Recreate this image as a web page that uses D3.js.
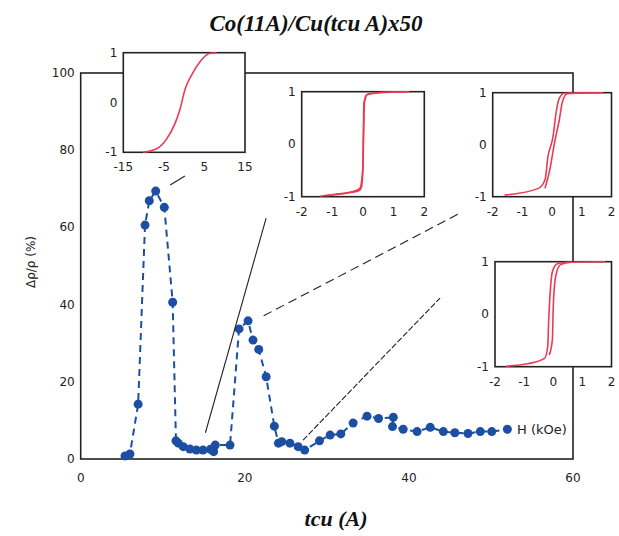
<!DOCTYPE html>
<html><head><meta charset="utf-8">
<script src="https://cdn.jsdelivr.net/npm/d3@7"></script>
<style>body{margin:0;background:#fff}</style>
</head><body>
<script>
// ---- data ----
const tcu = [5.4,6.0,7.0,7.84,8.36,9.14,10.19,11.21,11.61,11.9,12.5,13.3,14.1,14.9,15.8,16.2,16.4,18.2,19.3,20.4,21.0,21.7,22.6,23.6,24.1,24.5,25.5,26.5,27.3,29.1,30.4,31.7,33.2,34.9,36.3,38.1,38.0,39.3,41.0,42.6,44.2,45.6,47.2,48.7,50.1,52.0];
const dr  = [0.8,1.3,14.2,60.6,66.9,69.4,65.2,40.6,4.7,4.1,3.2,2.6,2.3,2.3,2.5,1.9,3.6,3.6,33.7,35.8,30.8,28.4,21.3,8.5,4.1,4.5,4.1,3.2,2.3,4.7,6.2,6.5,9.3,11.1,10.5,10.8,8.4,7.7,7.1,8.2,7.1,6.8,6.6,7.1,7.1,7.7];
const xTicks = [0,20,40,60];
const yTicks = [0,20,40,60,80,100];

// insets: H (kOe) and normalized M
const in1H = [-10.1,-6.8,-4.3,-2.3,-1.0,0.2,1.9,3.9,6.4,8.0];
const in1M = [-1.0,-0.93,-0.73,-0.43,-0.13,0.26,0.56,0.82,0.99,1.0];
const in1Ticks = [-15,-5,5,15];

const in2H = [-1.40,-0.86,-0.32,-0.10,-0.01,0.01,0.03,0.12,0.55,1.43];
const in2M = [-0.99,-0.95,-0.90,-0.84,-0.49,0.14,0.78,0.94,0.98,1.0];
const in2bH = [-1.2,-0.5,-0.12,-0.05,0.0,0.02,0.05,0.15,0.7,1.5];
const in2bM = [-0.98,-0.93,-0.88,-0.82,-0.45,0.18,0.8,0.95,0.99,1.0];

const in3H = [-1.60,-0.46,-0.24,-0.14,0.03,0.13,0.24,0.41,1.71];
const in3M = [-0.97,-0.84,-0.68,-0.23,0.15,0.60,0.89,0.99,1.0];
const in3bH = [-0.24,-0.08,0.08,0.24,0.35,0.51,1.2];
const in3bM = [-0.84,-0.49,0.03,0.47,0.83,0.98,1.0];

const in4H = [-1.62,-0.85,-0.30,-0.19,-0.16,-0.10,-0.03,0.14,0.47,1.78];
const in4M = [-0.99,-0.94,-0.84,-0.62,-0.17,0.46,0.81,0.96,0.99,1.0];
const in4bH = [-0.14,-0.03,0.0,0.08,0.24,0.6];
const in4bM = [-0.78,-0.49,0.14,0.71,0.94,0.99];
const insTicksSmall = [-2,-1,0,1,2];
const insYTicks = [-1,0,1];

// leader lines in main-data coordinates [x1,y1,x2,y2]
const leaders = [
  {p:[10.9,71.0,12.7,73.3], dash:null},
  {p:[15.2,6.8,22.6,62.4], dash:null},
  {p:[22.3,37.1,46.5,64.0], dash:"9,5"},
  {p:[27.1,4.9,43.8,41.7], dash:"6,2"}
];

// ---- drawing ----
const W=619,H=536;
const svg=d3.select("body").append("svg").attr("width",W).attr("height",H);
const L=80.7,R=573,T=73,B=459;
const x=d3.scaleLinear().domain([0,60]).range([L,R]);
const y=d3.scaleLinear().domain([0,100]).range([B,T]);
const blue="#1c4fa3", red="#ec3a55";
const tickFont="DejaVu Sans";

// frame
svg.append("rect").attr("x",L).attr("y",T).attr("width",R-L).attr("height",B-T)
  .attr("fill","none").attr("stroke","#222").attr("stroke-width",1.6);

// axes labels
svg.append("g").selectAll("text").data(xTicks).join("text")
  .attr("x",d=>x(d)).attr("y",B+23).attr("text-anchor","middle")
  .attr("font-family",tickFont).attr("font-size",12).attr("fill","#222").text(d=>d);
svg.append("g").selectAll("text").data(yTicks).join("text")
  .attr("x",L-6).attr("y",d=>y(d)+4).attr("text-anchor","end")
  .attr("font-family",tickFont).attr("font-size",12).attr("fill","#222").text(d=>d);

svg.append("text").attr("transform","translate(35,262) rotate(-90)").attr("text-anchor","middle")
  .attr("font-family",tickFont).attr("font-size",12).attr("fill","#222").text("Δρ/ρ (%)");

svg.append("text").attr("x",316).attr("y",31).attr("text-anchor","middle")
  .attr("font-family","Liberation Serif").attr("font-weight","bold").attr("font-style","italic")
  .attr("font-size",23).attr("fill","#111").text("Co(11A)/Cu(tcu A)x50");
svg.append("text").attr("x",336).attr("y",526).attr("text-anchor","middle")
  .attr("font-family","Liberation Serif").attr("font-weight","bold").attr("font-style","italic")
  .attr("font-size",22).attr("fill","#111").text("tcu (A)");

// data
const pts=tcu.map((t,i)=>[t,dr[i]]);
svg.append("path").datum(pts).attr("fill","none").attr("stroke",blue).attr("stroke-width",2)
  .attr("stroke-dasharray","7,5")
  .attr("d",d3.line().x(d=>x(d[0])).y(d=>y(d[1])));
svg.append("g").selectAll("circle").data(pts).join("circle")
  .attr("cx",d=>x(d[0])).attr("cy",d=>y(d[1])).attr("r",4.5).attr("fill",blue);

svg.append("text").attr("x",517).attr("y",434).attr("font-family",tickFont)
  .attr("font-size",13).attr("fill","#222").text("H (kOe)");

// leaders
leaders.forEach(l=>{
  const ln=svg.append("line").attr("x1",x(l.p[0])).attr("y1",y(l.p[1]))
    .attr("x2",x(l.p[2])).attr("y2",y(l.p[3])).attr("stroke","#222").attr("stroke-width",1.1);
  if(l.dash) ln.attr("stroke-dasharray",l.dash);
});

// insets
function inset(box, xdom, xt, curves){
  const g=svg.append("g");
  const sx=d3.scaleLinear().domain(xdom).range([box.l,box.r]);
  const sy=d3.scaleLinear().domain([-1,1]).range([box.b,box.t]);
  g.append("rect").attr("x",box.l).attr("y",box.t).attr("width",box.r-box.l).attr("height",box.b-box.t)
    .attr("fill","#fff").attr("stroke","#222").attr("stroke-width",1.6);
  curves.forEach(c=>{
    const p=c[0].map((h,i)=>[h,c[1][i]]);
    g.append("path").datum(p).attr("fill","none").attr("stroke",red).attr("stroke-width",1.6)
      .attr("d",d3.line().curve(d3.curveMonotoneX).x(d=>sx(d[0])).y(d=>sy(d[1])));
  });
  g.selectAll(".xt").data(xt).join("text").attr("x",d=>sx(d)).attr("y",box.b+19)
    .attr("text-anchor","middle").attr("font-family",tickFont).attr("font-size",12).attr("fill","#222").text(d=>d);
  g.selectAll(".yt").data(insYTicks).join("text").attr("x",box.l-6).attr("y",d=>sy(d)+4)
    .attr("text-anchor","end").attr("font-family",tickFont).attr("font-size",12).attr("fill","#222").text(d=>d);
}
inset({l:123.3,r:245,t:52.7,b:152.3},[-15,15],in1Ticks,[[in1H,in1M]]);
inset({l:301.7,r:424.3,t:91.7,b:196.7},[-2,2],insTicksSmall,[[in2H,in2M],[in2bH,in2bM]]);
inset({l:492.7,r:611.5,t:92.7,b:196.7},[-2,2],insTicksSmall,[[in3H,in3M],[in3bH,in3bM]]);
inset({l:495,r:611.5,t:261.7,b:366.7},[-2,2],insTicksSmall,[[in4H,in4M],[in4bH,in4bM]]);
</script>
</body></html>
